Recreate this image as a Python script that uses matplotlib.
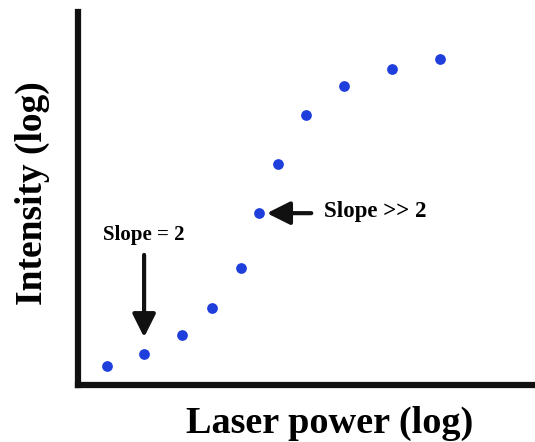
import matplotlib.pyplot as plt

plt.rcParams['font.family'] = ['Liberation Serif', 'DejaVu Serif']

# values in arbitrary log units
laser_power = [29, 66, 104, 134, 163, 181, 200, 228, 266, 314, 362]
intensity = [19, 31, 50, 77, 117, 172, 221, 270, 299, 316, 326]

fig = plt.figure(figsize=(5.35, 4.42), dpi=100)
ax = fig.add_axes([0.146, 0.129, 0.854, 0.843])

ax.scatter(laser_power, intensity, s=45, color='#1f3fdd', zorder=3)

ax.set_xlim(0, 457)
ax.set_ylim(0, 373)
ax.set_xticks([])
ax.set_yticks([])
for s in ['top', 'right']:
    ax.spines[s].set_visible(False)
for s in ['left', 'bottom']:
    ax.spines[s].set_linewidth(4.5)
    ax.spines[s].set_color('#111111')

ax.set_xlabel('Laser power (log)', fontsize=27.5, fontweight='bold')
ax.set_ylabel('Intensity (log)', fontsize=27, fontweight='bold')
ax.yaxis.set_label_coords(-0.062, 0.515)
ax.xaxis.set_label_coords(0.55, -0.055)

# slope annotations
head = '-|>,head_length=1.4,head_width=0.7'
ax.annotate('', xy=(laser_power[1], intensity[1] + 14), xytext=(laser_power[1], 133),
            arrowprops=dict(arrowstyle=head, lw=3, color='#111111'))
ax.text(laser_power[1], 150, 'Slope = 2', fontsize=15, fontweight='bold', ha='center', va='center')

ax.annotate('', xy=(laser_power[5] + 5, intensity[5]), xytext=(236, intensity[5]),
            arrowprops=dict(arrowstyle=head, lw=3, color='#111111'))
ax.text(246, intensity[5] + 2, 'Slope >> 2', fontsize=16.5, fontweight='bold', ha='left', va='center')

fig.savefig('out.png', dpi=100)
